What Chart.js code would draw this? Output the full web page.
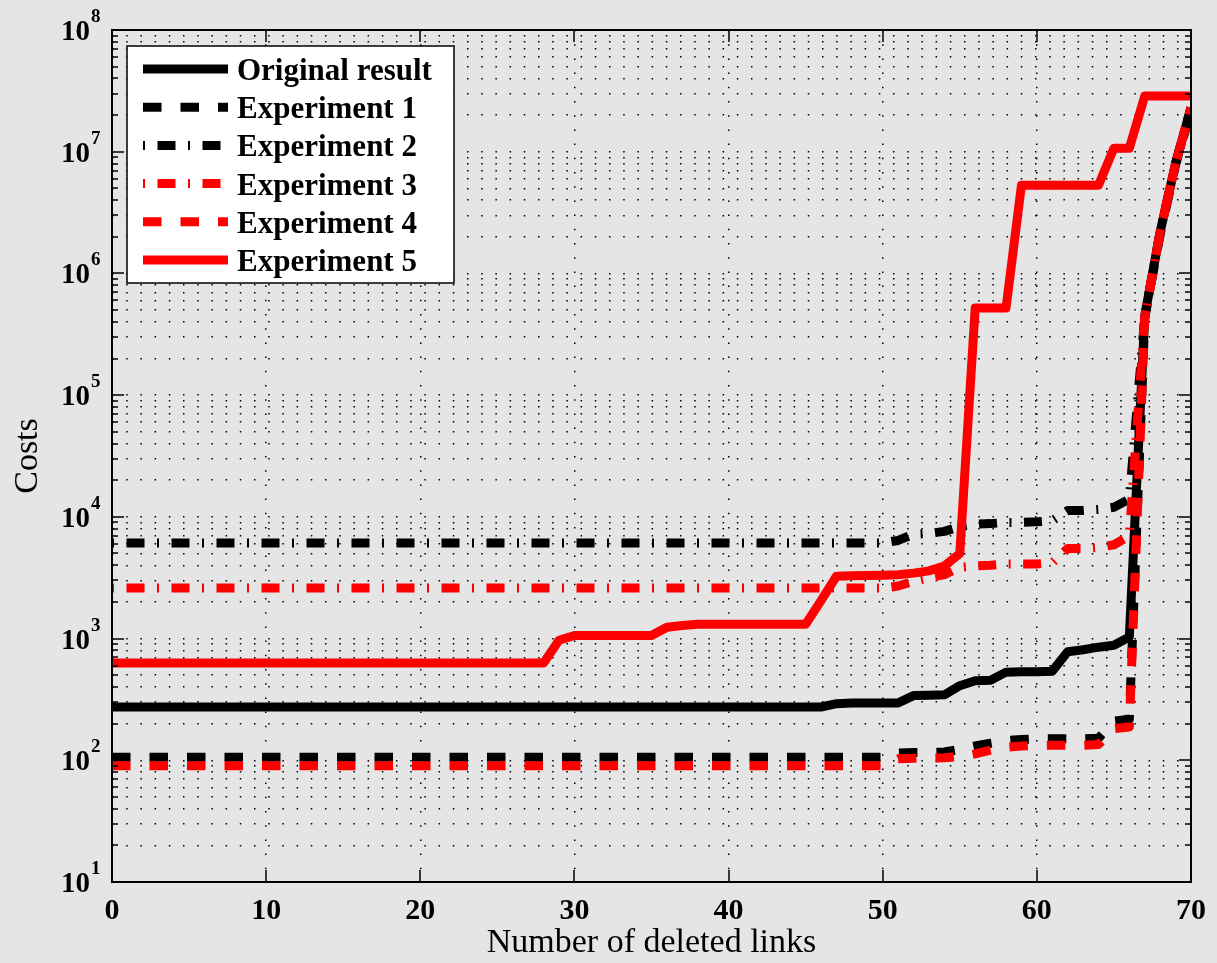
<!DOCTYPE html>
<html>
<head>
<meta charset="utf-8">
<script src="https://cdn.jsdelivr.net/npm/chart.js@4.4.1/dist/chart.umd.min.js"></script>
<style>
  html, body { margin: 0; padding: 0; background: #e5e5e5; }
  #wrap { position: relative; width: 1217px; height: 963px; }
</style>
</head>
<body>
<div id="wrap"><canvas id="costChart"></canvas></div>
<script>
// x: number of deleted links
const deletedLinks = [
  0, 1, 2, 3, 4, 5, 6, 7, 8, 9,
  10, 11, 12, 13, 14, 15, 16, 17, 18, 19,
  20, 21, 22, 23, 24, 25, 26, 27, 28, 29,
  30, 31, 32, 33, 34, 35, 36, 37, 38, 39,
  40, 41, 42, 43, 44, 45, 46, 47, 48, 49,
  50, 51, 52, 53, 54, 55, 56, 57, 58, 59,
  60, 61, 62, 63, 64, 65, 66, 67, 68, 69,
  70
];

// costs
const originalResult = [
  274, 274, 274, 274, 274, 274, 274, 274, 274, 274,
  274, 274, 274, 274, 274, 274, 274, 274, 274, 274,
  274, 274, 274, 274, 274, 274, 274, 274, 274, 274,
  274, 274, 274, 274, 274, 274, 274, 274, 274, 274,
  274, 274, 274, 274, 274, 274, 274, 292, 295, 295,
  295, 296, 340, 342, 345, 410, 450, 455, 530, 535,
  535, 540, 780, 810, 850, 880, 1030, 450000, 2200000, 8000000,
  23000000
];
const experiment1 = [
  106, 106, 106, 106, 106, 106, 106, 106, 106, 106,
  106, 106, 106, 106, 106, 106, 106, 106, 106, 106,
  106, 106, 106, 106, 106, 106, 106, 106, 106, 106,
  106, 106, 106, 106, 106, 106, 106, 106, 106, 106,
  106, 106, 106, 106, 106, 106, 106, 106, 106, 106,
  106, 115, 116, 116, 117, 123, 131, 138, 145, 148,
  150, 150, 150, 150, 152, 210, 218, 430000, 2100000, 7800000,
  22000000
];
const experiment2 = [
  6100, 6100, 6100, 6100, 6100, 6100, 6100, 6100, 6100, 6100,
  6100, 6100, 6100, 6100, 6100, 6100, 6100, 6100, 6100, 6100,
  6100, 6100, 6100, 6100, 6100, 6100, 6100, 6100, 6100, 6100,
  6100, 6100, 6100, 6100, 6100, 6100, 6100, 6100, 6100, 6100,
  6100, 6100, 6100, 6100, 6100, 6100, 6100, 6100, 6100, 6100,
  6100, 6400, 7200, 7300, 7600, 8300, 8700, 8800, 9000, 9000,
  9100, 9300, 11300, 11300, 11500, 12000, 14000, 440000, 2200000, 8000000,
  23000000
];
const experiment3 = [
  2600, 2600, 2600, 2600, 2600, 2600, 2600, 2600, 2600, 2600,
  2600, 2600, 2600, 2600, 2600, 2600, 2600, 2600, 2600, 2600,
  2600, 2600, 2600, 2600, 2600, 2600, 2600, 2600, 2600, 2600,
  2600, 2600, 2600, 2600, 2600, 2600, 2600, 2600, 2600, 2600,
  2600, 2600, 2600, 2600, 2600, 2600, 2600, 2600, 2600, 2600,
  2600, 2700, 2950, 3150, 3350, 3850, 3950, 4000, 4100, 4100,
  4100, 4200, 5500, 5500, 5600, 5900, 7000, 440000, 2200000, 8000000,
  23000000
];
const experiment4 = [
  90, 90, 90, 90, 90, 90, 90, 90, 90, 90,
  90, 90, 90, 90, 90, 90, 90, 90, 90, 90,
  90, 90, 90, 90, 90, 90, 90, 90, 90, 90,
  90, 90, 90, 90, 90, 90, 90, 90, 90, 90,
  90, 90, 90, 90, 90, 90, 90, 90, 90, 90,
  90, 103, 104, 104, 105, 107, 113, 121, 128, 131,
  133, 133, 133, 133, 135, 182, 188, 440000, 2200000, 8000000,
  23000000
];
const experiment5 = [
  630, 630, 630, 630, 630, 630, 630, 630, 630, 630,
  630, 630, 630, 630, 630, 630, 630, 630, 630, 630,
  630, 630, 630, 630, 630, 630, 630, 630, 630, 970,
  1060, 1060, 1060, 1060, 1060, 1060, 1240, 1280, 1310, 1310,
  1310, 1310, 1310, 1310, 1310, 1310, 2050, 3250, 3280, 3300,
  3320, 3350, 3450, 3600, 3950, 5000, 520000, 520000, 520000, 5300000,
  5300000, 5300000, 5300000, 5300000, 5300000, 10700000, 10700000, 28700000, 28700000, 28700000,
  28700000
];

// y axis: decades 10^1 .. 10^8 and minor multipliers
const yExponents = [1, 2, 3, 4, 5, 6, 7, 8];
const yMinorSteps = [2, 3, 4, 5, 6, 7, 8, 9];
const xTickStep = 10;

const serif = '"Liberation Serif", "Times New Roman", serif';

function series(label, values, color, dash, dashOffset) {
  return {
    label: label,
    data: values.map((v, i) => ({ x: deletedLinks[i], y: v })),
    borderColor: color,
    backgroundColor: color,
    borderWidth: 9,
    borderDash: dash,
    borderDashOffset: dashOffset || 0,
    borderJoinStyle: 'round',
    pointRadius: 0,
    tension: 0,
    fill: false
  };
}

const dashed = [18.5, 19];
const dashDot = [18, 12.5, 2, 12.5];
const dotted = [1.5, 12.7];

const datasets = [
  series('Original result', originalResult, '#000000', []),
  series('Experiment 1', experiment1, '#000000', dashed),
  series('Experiment 2', experiment2, '#000000', dashDot, 30.5),
  series('Experiment 3', experiment3, '#ff0000', dashDot, 30.5),
  series('Experiment 4', experiment4, '#ff0000', dashed),
  series('Experiment 5', experiment5, '#ff0000', [])
];
// later series on top, like the original plot
datasets.forEach((d, i) => { d.order = datasets.length - i; });

// tick marks inside the box, box itself and the 10^n labels
const axesBox = {
  id: 'axesBox',
  afterDatasetsDraw(chart) {
    const ctx = chart.ctx, a = chart.chartArea;
    const xs = chart.scales.x, ys = chart.scales.y;
    ctx.save();
    ctx.strokeStyle = '#000';
    ctx.lineWidth = 1.5;
    ctx.beginPath();
    xs.ticks.forEach(t => {
      const px = Math.round(xs.getPixelForValue(t.value));
      ctx.moveTo(px, a.bottom); ctx.lineTo(px, a.bottom - 12);
      ctx.moveTo(px, a.top); ctx.lineTo(px, a.top + 12);
    });
    ys.ticks.forEach(t => {
      const py = Math.round(ys.getPixelForValue(t.value));
      const len = t.major ? 12 : 6;
      ctx.moveTo(a.left, py); ctx.lineTo(a.left + len, py);
      ctx.moveTo(a.right, py); ctx.lineTo(a.right - len, py);
    });
    ctx.stroke();
    ctx.lineWidth = 2;
    ctx.strokeRect(a.left, a.top, a.right - a.left, a.bottom - a.top);

    ctx.fillStyle = '#000';
    ctx.textBaseline = 'alphabetic';
    yExponents.forEach(e => {
      const py = ys.getPixelForValue(Math.pow(10, e));
      ctx.font = 'bold 29px ' + serif;
      ctx.textAlign = 'right';
      ctx.fillText('10', 90, py + 10);
      ctx.font = 'bold 19px ' + serif;
      ctx.textAlign = 'left';
      ctx.fillText(String(e), 91, py - 8);
    });
    ctx.restore();
  }
};

// boxed legend in the upper left corner
const boxLegend = {
  id: 'boxLegend',
  afterDraw(chart) {
    const ctx = chart.ctx;
    const left = 127, top = 46, w = 327, h = 237;
    ctx.save();
    ctx.fillStyle = '#ffffff';
    ctx.fillRect(left, top, w, h);
    ctx.strokeStyle = '#000';
    ctx.lineWidth = 1.5;
    ctx.strokeRect(left, top, w, h);
    chart.data.datasets.forEach((d, i) => {
      const cy = 69 + i * 38.2;
      ctx.beginPath();
      ctx.strokeStyle = d.borderColor;
      ctx.lineWidth = d.borderWidth;
      ctx.lineCap = 'butt';
      ctx.setLineDash(d.borderDash);
      ctx.lineDashOffset = d.borderDashOffset;
      ctx.moveTo(143, cy);
      ctx.lineTo(228, cy);
      ctx.stroke();
      ctx.setLineDash([]);
      ctx.fillStyle = '#000';
      ctx.font = 'bold 31px ' + serif;
      ctx.textAlign = 'left';
      ctx.textBaseline = 'alphabetic';
      ctx.fillText(d.label, 237, cy + 11);
    });
    ctx.restore();
  }
};

new Chart(document.getElementById('costChart').getContext('2d'), {
  type: 'line',
  data: { datasets: datasets },
  options: {
    responsive: true,
    maintainAspectRatio: false,
    animation: false,
    events: [],
    layout: { padding: { top: 30, right: 26, left: 0, bottom: 0 } },
    plugins: { legend: { display: false }, tooltip: { enabled: false } },
    scales: {
      x: {
        type: 'linear',
        min: 0,
        max: 70,
        ticks: {
          stepSize: xTickStep,
          color: '#000',
          padding: 11,
          maxRotation: 0,
          autoSkip: false,
          font: { family: serif, size: 30, weight: 'bold' }
        },
        grid: { color: '#000', lineWidth: 1.5, drawTicks: false },
        border: { display: false, dash: dotted },
        title: {
          display: true,
          text: 'Number of deleted links',
          color: '#000',
          padding: 0,
          font: { family: serif, size: 34, weight: 'normal' }
        },
        afterFit(scale) { scale.height = 81; }
      },
      y: {
        type: 'logarithmic',
        min: 10,
        max: 100000000,
        afterBuildTicks(scale) {
          const ticks = [];
          yExponents.forEach(e => {
            ticks.push({ value: Math.pow(10, e), major: true });
            if (e < yExponents[yExponents.length - 1]) {
              yMinorSteps.forEach(m => ticks.push({ value: m * Math.pow(10, e), major: false }));
            }
          });
          scale.ticks = ticks;
        },
        ticks: { display: false },
        grid: { color: '#000', lineWidth: 1.5, drawTicks: false },
        border: { display: false, dash: dotted },
        title: {
          display: true,
          text: 'Costs',
          color: '#000',
          padding: { top: 8, bottom: 0 },
          font: { family: serif, size: 34, weight: 'normal' }
        },
        afterFit(scale) { scale.width = 112; }
      }
    }
  },
  plugins: [axesBox, boxLegend]
});
</script>
</body>
</html>
